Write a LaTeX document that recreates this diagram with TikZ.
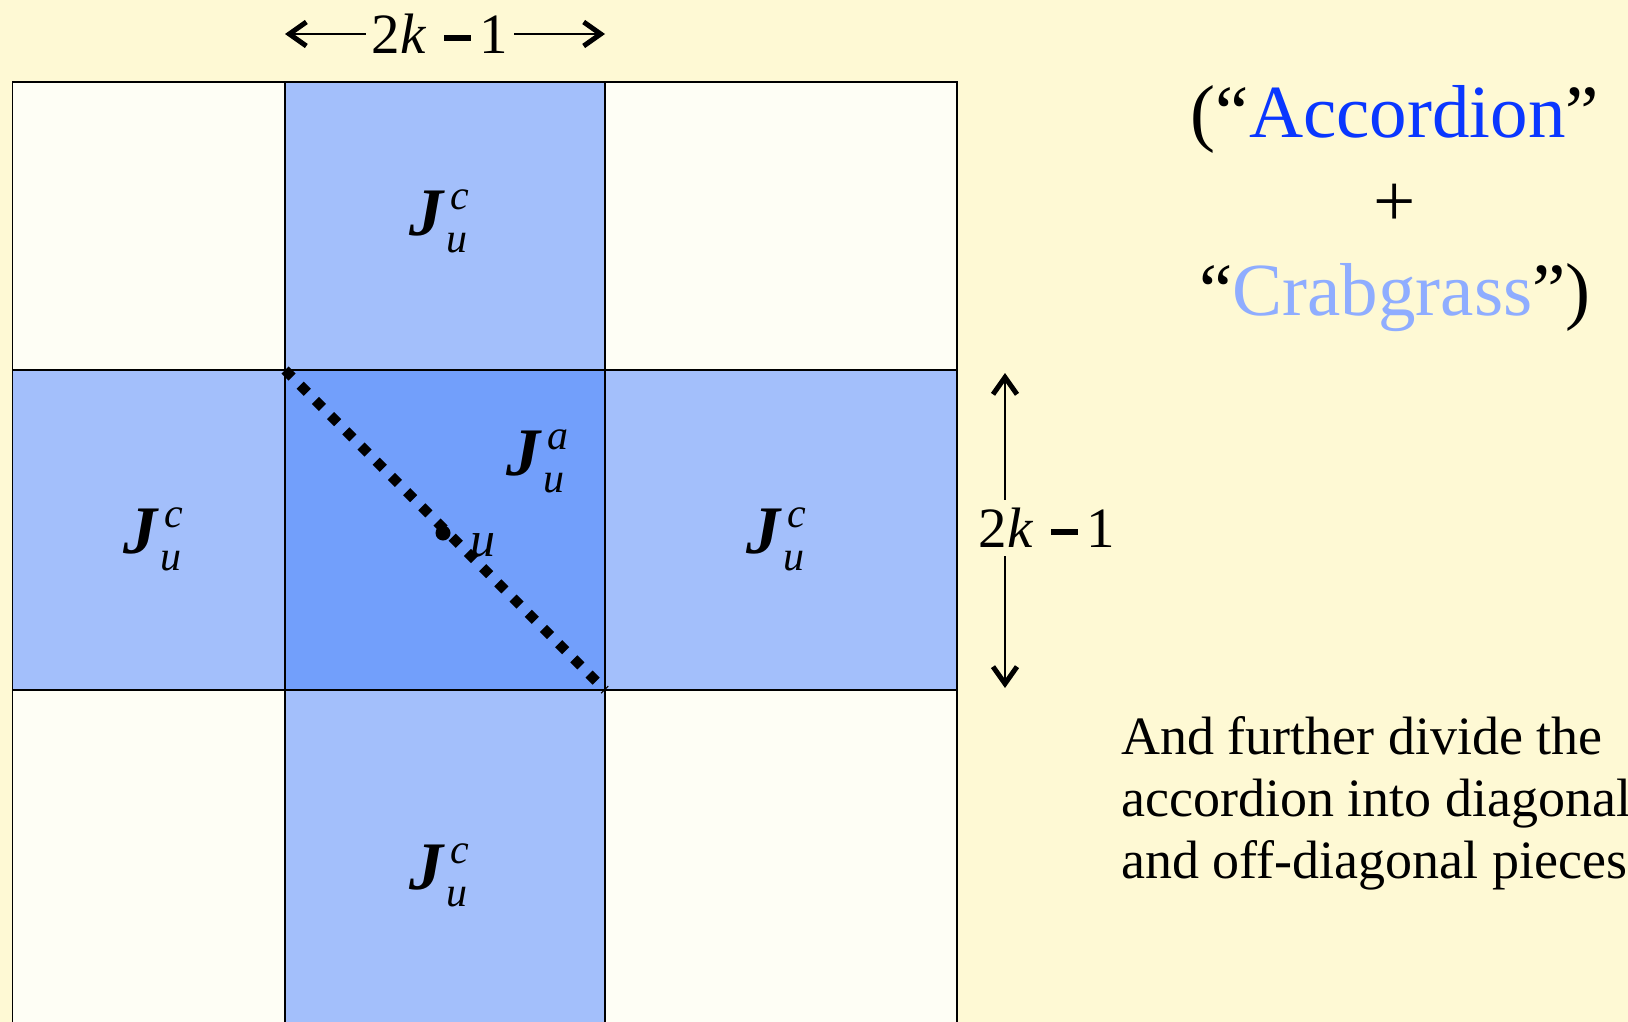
\documentclass[tikz,border=0pt]{standalone}
\usepackage{fontspec}
\setmainfont{Liberation Serif}
\usetikzlibrary{arrows.meta}

\definecolor{fonbg}{HTML}{FEF9D4}
\definecolor{cellwhite}{HTML}{FEFEF5}
\definecolor{crabblue}{HTML}{A3BFFB}
\definecolor{accblue}{HTML}{729FFB}
\definecolor{acctext}{HTML}{0A37FF}
\definecolor{crabtext}{HTML}{8FADFF}

% подпись блока J_u^x
\newcommand{\Jlab}[1]{{\fontsize{68}{70}\selectfont\bfseries\itshape J}\hspace{7pt}%
	\makebox[0pt][l]{\raisebox{26pt}{\fontsize{42}{44}\selectfont\itshape #1}}%
	\hspace{-4pt}\raisebox{-17pt}{\fontsize{42}{44}\selectfont\itshape u}}
% 2k - 1
\newcommand{\dimtext}{2\textit{k}\hspace{0.3em}\rule[0.23em]{0.48em}{0.1em}\hspace{0.15em}1}

\begin{document}
\begin{tikzpicture}[x=1pt, y=-1pt,
	cell/.style={draw=black, line width=1.5pt},
	jlab/.style={inner sep=0pt, anchor=base west},
	dimlab/.style={font=\fontsize{57}{64}\selectfont, fill=fonbg, inner xsep=6pt, inner ysep=8pt},
	dimarrow/.style={line width=2pt,
		{Straight Barb[length=17pt,width=24pt,line width=5pt]}-{Straight Barb[length=17pt,width=24pt,line width=5pt]}},
	diagdots/.style={line width=10pt, dash pattern=on 10pt off 11.5pt}]
	% параметры сетки
	\def\xa{12.5} % левый край
	\def\xb{285}  % левая граница аккордеона
	\def\xc{605}  % правая граница аккордеона
	\def\xd{957}  % правый край
	\def\ya{82}   % верхний край
	\def\yb{370}
	\def\yc{690}
	\def\yd{1040} % уходит за нижний край

	% фон
	\fill[fonbg] (0,0) rectangle (1628,1022);
	\useasboundingbox (0,0) rectangle (1628,1022);

	\begin{scope}
		\clip (0,0) rectangle (1628,1022);

		% угловые клетки
		\foreach \x/\y/\X/\Y in {\xa/\ya/\xb/\yb, \xc/\ya/\xd/\yb, \xa/\yc/\xb/\yd, \xc/\yc/\xd/\yd}
			\draw[cell, fill=cellwhite] (\x,\y) rectangle (\X,\Y);

		% «трава»
		\foreach \x/\y/\X/\Y in {\xb/\ya/\xc/\yb, \xa/\yb/\xb/\yc, \xc/\yb/\xd/\yc, \xb/\yc/\xc/\yd}
			\draw[cell, fill=crabblue] (\x,\y) rectangle (\X,\Y);

		% аккордеон
		\draw[cell, fill=accblue] (\xb,\yb) rectangle (\xc,\yc);
	\end{scope}

	% диагональ
	\coordinate (dstart) at (\xb,\yb);
	\coordinate (dend) at (\xc,\yc);
	\draw[diagdots] (dstart) -- (dend);

	% точка u
	\node[circle, fill=black, inner sep=0pt, minimum size=15pt] (udot) at (443,533) {};
	\node[font=\fontsize{50}{56}\selectfont\itshape, inner sep=0pt] (ulab) at (483,545) {u};

	% подписи блоков
	\node[jlab] (jtop) at (409,235) {\Jlab{c}};
	\node[jlab] (jleft) at (123,553) {\Jlab{c}};
	\node[jlab] (jright) at (746,553) {\Jlab{c}};
	\node[jlab] (jbot) at (409,889) {\Jlab{c}};
	\node[jlab] (jacc) at (506,475) {\Jlab{a}};

	% размеры
	\coordinate (hleft) at (\xb,34);
	\coordinate (hright) at (\xc,34);
	\draw[dimarrow] (hleft) -- (hright);
	\node[dimlab] (hlab) at (440,34) {\dimtext};

	\coordinate (vtop) at (1005,373);
	\coordinate (vbot) at (1005,688);
	\draw[dimarrow] (vtop) -- (vbot);
	\node[dimlab] (vlab) at (1047,528) {\dimtext};

	% пояснения
	\node[font=\fontsize{75}{89}\selectfont, align=center] (terms) at (1395,209)
		{(“\textcolor{acctext}{Accordion}”\\+\\“\textcolor{crabtext}{Crabgrass}”)};
	\node[font=\fontsize{54}{62}\selectfont, align=left, anchor=north west, inner sep=0pt] (note) at (1121,716)
		{And further divide the\\accordion into diagonal\\and off-diagonal pieces};
\end{tikzpicture}
\end{document}
